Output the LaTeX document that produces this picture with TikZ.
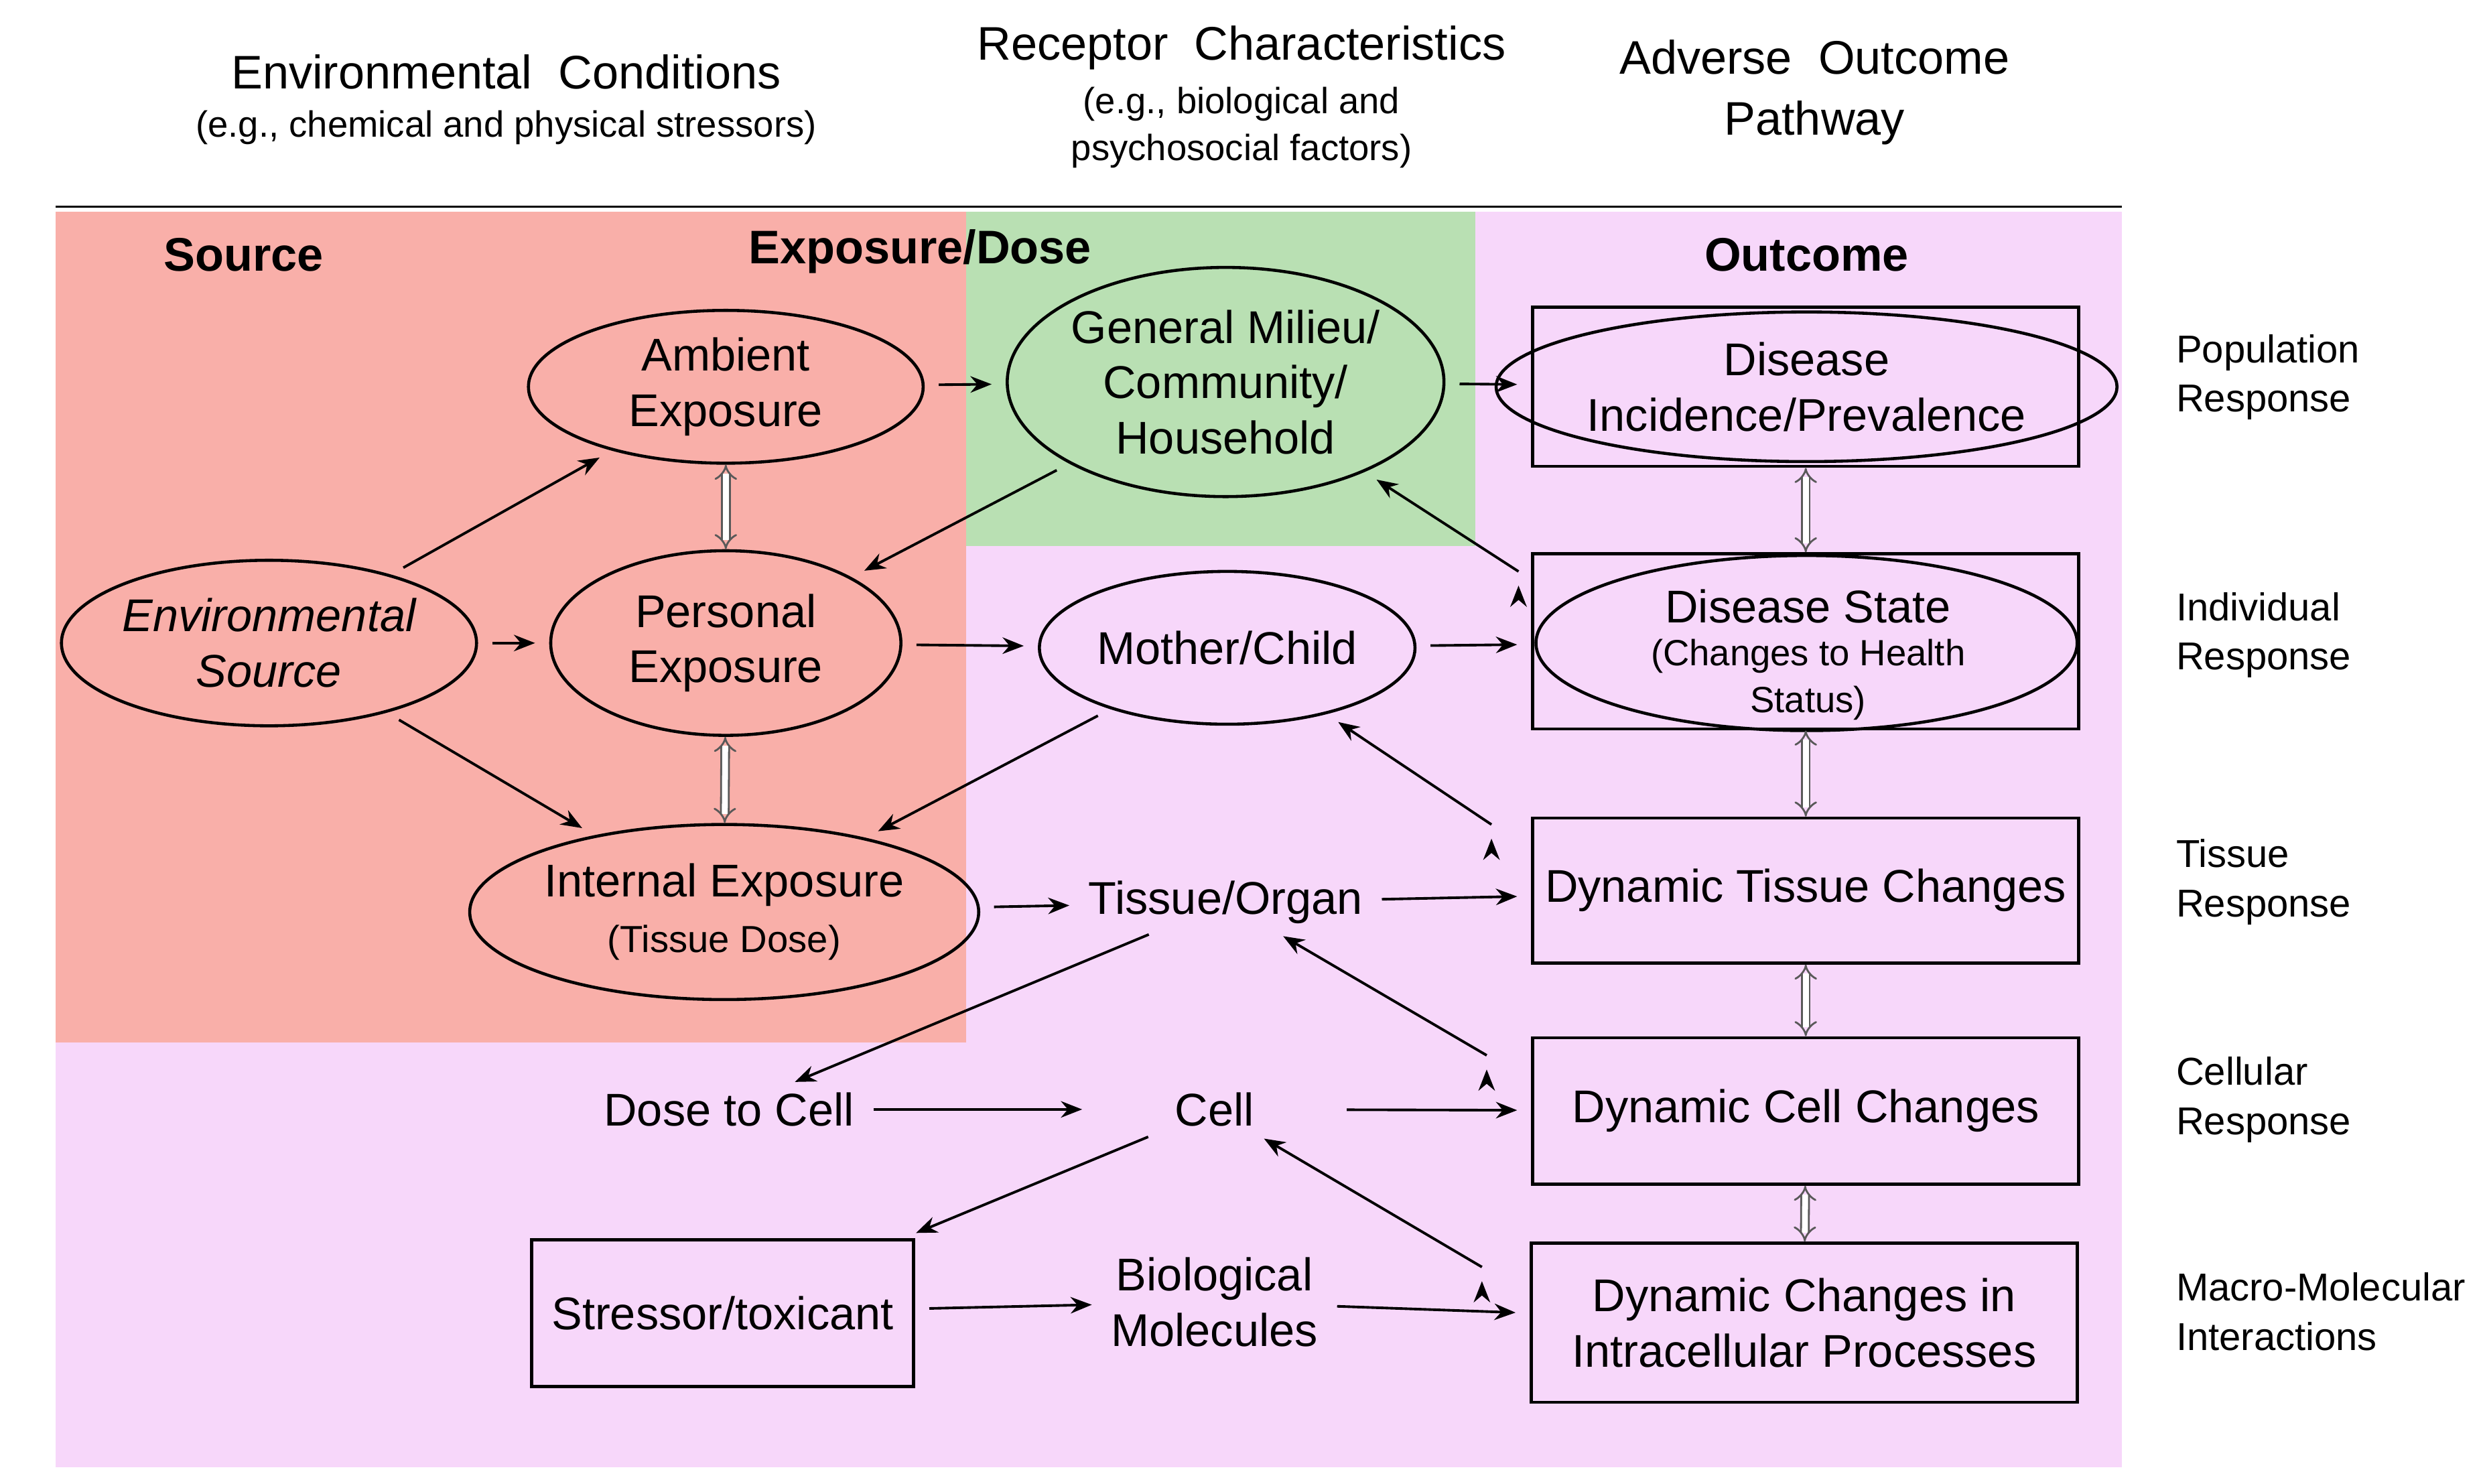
\documentclass[tikz,border=0pt]{standalone}
\usepackage{fontspec}
\setmainfont{Liberation Sans}
\usetikzlibrary{shapes.geometric,arrows.meta}
\definecolor{rd}{HTML}{F9AFA9}
\definecolor{gr}{HTML}{B9E0B3}
\definecolor{pk}{HTML}{F7D7FA}
\begin{document}
\begin{tikzpicture}[x=0.02376cm,y=-0.02376cm,
 ell/.style 2 args={ellipse,draw,line width=1.3pt,minimum width=#1*0.02376cm,minimum height=#2*0.02376cm,inner sep=0pt,align=center,font=\fontsize{19.5}{23.5}\selectfont},
 box/.style 2 args={rectangle,draw,line width=1.3pt,minimum width=#1*0.02376cm,minimum height=#2*0.02376cm,inner sep=0pt,align=center,font=\fontsize{19.5}{23.5}\selectfont},
 txt/.style={align=center,font=\fontsize{19.5}{23.5}\selectfont,inner sep=2pt},
 sml/.style={font=\fontsize{15.5}{20}\selectfont},
 rl/.style={anchor=west,align=left,font=\fontsize{16.5}{21}\selectfont},
 hd/.style={align=center,font=\fontsize{20}{26}\selectfont},
 bh/.style={font=\fontsize{20}{24}\selectfont\bfseries},
 ar/.style={-{Stealth[length=9pt,width=7pt]},line width=1.1pt,shorten >=6pt,shorten <=6pt},
 dar/.style={{Implies}-{Implies},double,double distance=2.5pt,line width=0.8pt,draw=gray!70!black}]
\useasboundingbox (0,0) rectangle (1560,932);
\fill[pk] (35,133) rectangle (1333,922);
\fill[rd] (35,133) rectangle (607,655);
\fill[gr] (607,133) rectangle (927,343);
\draw[line width=0.8pt] (35,130) -- (1333,130);
% headings
\node[hd] (h1) at (318,45) {Environmental\ \ Conditions};
\node[hd,font=\fontsize{15.5}{20}\selectfont] (h1s) at (318,80) {(e.g., chemical and physical stressors)};
\node[hd] (h2) at (780,30) {Receptor\ \ Characteristics};
\node[hd,font=\fontsize{15.5}{20}\selectfont] (h2s) at (780,80) {(e.g., biological and\\psychosocial factors)};
\node[hd] (h3) at (1140,58) {Adverse\ \ Outcome\\Pathway};
\node[bh] (s1) at (153,160) {Source};
\node[bh] (s2) at (578,158) {Exposure/Dose};
\node[bh] (s3) at (1135,160) {Outcome};
% nodes
\node[ell={234}{104}] (env) at (169,404) {\itshape Environmental\\\itshape Source};
\node[ell={248}{96}] (amb) at (456,243) {Ambient\\Exposure};
\node[ell={220}{116}] (per) at (456,404) {Personal\\Exposure};
\node[ell={264}{110}] (int) at (455,573) {Internal Exposure\\{\fontsize{16}{20}\selectfont(Tissue Dose)}};
\node[ell={260}{144}] (gen) at (770,240) {General Milieu/\\Community/\\Household};
\node[ell={236}{96}] (mot) at (771,407) {Mother/Child};
\node[box={343}{100}] (dinc) at (1134.5,243) {};
\node[ell={340}{94}] (dince) at (1135,243) {Disease\\Incidence/Prevalence};
\node[box={343}{110}] (dst) at (1134.5,403) {};
\node[ell={340}{110}] (dste) at (1135,404) {};
\node[txt] at (1136,381) {Disease State};
\node[sml,align=center] at (1136,427) {(Changes to Health\\Status)};
\node[box={343}{91}] (dtis) at (1134.5,559.5) {Dynamic Tissue Changes};
\node[box={343}{92}] (dcel) at (1134.5,698) {Dynamic Cell Changes};
\node[box={343}{100}] (dint) at (1133.5,831) {Dynamic Changes in\\Intracellular Processes};
\node[box={240}{92}] (str) at (454,825) {Stressor/toxicant};
\node[txt] (tis) at (770,567) {Tissue/Organ};
\node[txt] (dose) at (458,697) {Dose to Cell};
\node[txt,minimum width=100pt] (cell) at (763,697) {Cell};
\node[txt] (bio) at (763,818) {Biological\\Molecules};
% right labels
\node[rl] (r1) at (1362,237) {Population\\Response};
\node[rl] (r2) at (1362,399) {Individual\\Response};
\node[rl] (r3) at (1362,554) {Tissue\\Response};
\node[rl] (r4) at (1362,691) {Cellular\\Response};
\node[rl] (r5) at (1362,824) {Macro-Molecular\\Interactions};
% arrows
\draw[ar] (env) -- (amb);
\draw[ar] (env) -- (per);
\draw[ar] (env) -- (int);
\draw[ar] (amb) -- (gen);
\draw[ar] (gen) -- (dinc);
\draw[ar] (gen) -- (per);
\draw[ar] (per) -- (mot);
\draw[ar] (mot) -- (dst);
\draw[ar] (mot) -- (int);
\draw[ar] (dst.north west) ++(-8,12) coordinate (a1);
\draw[ar,shorten <=0pt] (a1) -- (gen);
\draw[ar] (int) -- (tis);
\draw[ar] (tis) -- (dtis);
\draw[ar] (dtis.north west) ++(-25,5) coordinate (a2);
\draw[ar,shorten <=0pt] (a2) -- (mot);
\draw[ar] (tis) -- (dose);
\draw[ar] (dose) -- (cell);
\draw[ar] (cell) -- (dcel);
\draw[ar] (dcel.north west) ++(-28,12) coordinate (a3);
\draw[ar,shorten <=0pt] (a3) -- (tis);
\draw[ar] (cell) -- (str);
\draw[ar] (str) -- (bio);
\draw[ar] (bio) -- (dint);
\draw[ar] (dint.north west) ++(-30,16) coordinate (a4);
\draw[ar,shorten <=0pt] (a4) -- (cell);
% double arrows
\draw[dar] (amb) -- (per);
\draw[dar] (per) -- (int);
\draw[dar] (dinc) -- (dst);
\draw[dar] (dst) -- (dtis);
\draw[dar] (dtis) -- (dcel);
\draw[dar] (dcel) -- (dint);
\end{tikzpicture}
\end{document}
